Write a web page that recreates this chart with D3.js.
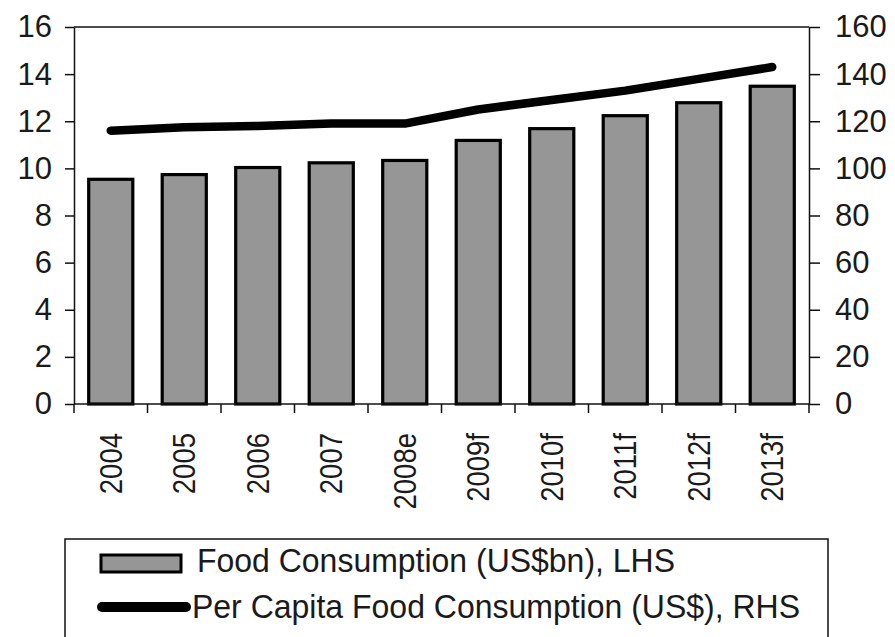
<!DOCTYPE html>
<html>
<head>
<meta charset="utf-8">
<script src="https://cdn.jsdelivr.net/npm/d3@7"></script>
<style>
  body { margin: 0; background: #fff; }
  svg { display: block; }
  .tick text { font-family: "Liberation Sans", Arial, sans-serif; font-size: 31px; fill: #1a1a1a; }
</style>
</head>
<body>
<svg id="chart" width="895" height="637"></svg>
<script>
// values
const years = ['2004', '2005', '2006', '2007', '2008e', '2009f', '2010f', '2011f', '2012f', '2013f'];
const foodConsumption = [9.6, 9.8, 10.1, 10.3, 10.4, 11.25, 11.75, 12.3, 12.85, 13.55]; // US$bn, LHS
const perCapita = [116, 117.5, 118, 119, 119, 125, 129, 133, 138, 143];              // US$, RHS
const leftTicks = [0, 2, 4, 6, 8, 10, 12, 14, 16];
const rightTicks = [0, 20, 40, 60, 80, 100, 120, 140, 160];
const legendLabels = ['Food Consumption (US$bn), LHS', 'Per Capita Food Consumption (US$), RHS'];

const svg = d3.select('#chart');
const W = 895, H = 637;
const margin = {top: 27, right: 86, bottom: 233, left: 74};
const innerW = W - margin.left - margin.right;
const innerH = H - margin.top - margin.bottom;

const g = svg.append('g').attr('transform', `translate(${margin.left},${margin.top})`);

const x = d3.scaleBand().domain(years).range([0, innerW]).paddingInner(0.4).paddingOuter(0.2);
const yL = d3.scaleLinear().domain([0, 16]).range([innerH, 0]);
const yR = d3.scaleLinear().domain([0, 160]).range([innerH, 0]);

// bars
g.selectAll('rect.bar')
  .data(years)
  .join('rect')
  .attr('class', 'bar')
  .attr('x', (d) => x(d))
  .attr('width', x.bandwidth())
  .attr('y', (d, i) => yL(foodConsumption[i]) + 1.5)
  .attr('height', (d, i) => innerH - yL(foodConsumption[i]) - 1.5)
  .attr('fill', '#969696')
  .attr('stroke', '#000')
  .attr('stroke-width', 3.2);

// left axis
const axL = g.append('g')
  .call(d3.axisLeft(yL).tickValues(leftTicks).tickSize(9).tickSizeOuter(0).tickPadding(13));
axL.selectAll('path, line').attr('stroke', '#111').attr('stroke-width', 1.5);

// right axis
const axR = g.append('g')
  .attr('transform', `translate(${innerW},0)`)
  .call(d3.axisRight(yR).tickValues(rightTicks).tickSize(11).tickSizeOuter(0).tickPadding(15));
axR.selectAll('path, line').attr('stroke', '#111').attr('stroke-width', 1.5);
axR.selectAll('text').attr('text-anchor', 'start');

// top border
g.append('line')
  .attr('x1', 0).attr('x2', innerW)
  .attr('y1', 0).attr('y2', 0)
  .attr('stroke', '#111').attr('stroke-width', 1.5);

// x axis baseline + ticks at the band edges
g.append('line')
  .attr('x1', 0).attr('x2', innerW)
  .attr('y1', innerH).attr('y2', innerH)
  .attr('stroke', '#111').attr('stroke-width', 1.5);

const edges = d3.range(years.length + 1).map((i) => i * x.step());
g.selectAll('line.xtick')
  .data(edges)
  .join('line')
  .attr('class', 'xtick')
  .attr('x1', (d) => d).attr('x2', (d) => d)
  .attr('y1', innerH).attr('y2', innerH + 9)
  .attr('stroke', '#111').attr('stroke-width', 1.5);

g.selectAll('text.xlab')
  .data(years)
  .join('text')
  .attr('class', 'xlab')
  .attr('transform', (d) => `translate(${x(d) + x.bandwidth() / 2},${innerH + 29}) rotate(-90) scale(0.86,1)`)
  .attr('text-anchor', 'end')
  .attr('dy', '0.35em')
  .style('font-family', '"Liberation Sans", Arial, sans-serif')
  .style('font-size', '32px')
  .attr('fill', '#1a1a1a')
  .text((d) => d);

// per capita line
const line = d3.line()
  .x((d, i) => x(years[i]) + x.bandwidth() / 2)
  .y((d) => yR(d));

g.append('path')
  .datum(perCapita)
  .attr('d', line)
  .attr('fill', 'none')
  .attr('stroke', '#000')
  .attr('stroke-width', 8.5)
  .attr('stroke-linecap', 'round')
  .attr('stroke-linejoin', 'round');

// legend
const lg = svg.append('g');
lg.append('rect')
  .attr('x', 65).attr('y', 539)
  .attr('width', 763).attr('height', 110)
  .attr('fill', 'none').attr('stroke', '#111').attr('stroke-width', 1.5);

lg.append('rect')
  .attr('x', 101).attr('y', 555)
  .attr('width', 80).attr('height', 17)
  .attr('fill', '#969696').attr('stroke', '#000').attr('stroke-width', 3);

lg.append('line')
  .attr('x1', 102).attr('x2', 186)
  .attr('y1', 607).attr('y2', 607)
  .attr('stroke', '#000').attr('stroke-width', 10).attr('stroke-linecap', 'round');

const legendX = [197, 192];
const legendY = [572, 618];
const legendLen = [478, 608];
lg.selectAll('text.leg')
  .data(legendLabels)
  .join('text')
  .attr('class', 'leg')
  .attr('x', (d, i) => legendX[i])
  .attr('y', (d, i) => legendY[i])
  .attr('textLength', (d, i) => legendLen[i])
  .attr('lengthAdjust', 'spacingAndGlyphs')
  .style('font-family', '"Liberation Sans Narrow", "Liberation Sans", Arial, sans-serif')
  .style('font-size', '33px')
  .attr('fill', '#1a1a1a')
  .text((d) => d);
</script>
</body>
</html>
